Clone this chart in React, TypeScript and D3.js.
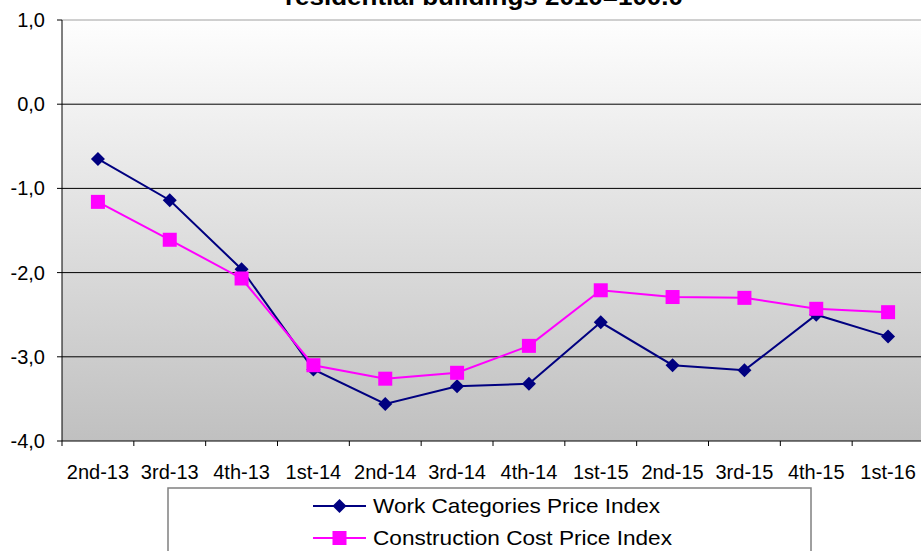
import React from "react";
import * as d3 from "d3";

const categories = ["2nd-13", "3rd-13", "4th-13", "1st-14", "2nd-14", "3rd-14", "4th-14", "1st-15", "2nd-15", "3rd-15", "4th-15", "1st-16"];
const workIndex = [-0.65, -1.14, -1.96, -3.15, -3.56, -3.35, -3.32, -2.59, -3.10, -3.16, -2.50, -2.76];
const costIndex = [-1.16, -1.61, -2.07, -3.10, -3.26, -3.19, -2.87, -2.21, -2.29, -2.30, -2.43, -2.47];
const yTicks = [1, 0, -1, -2, -3, -4];
const titleText = "residential buildings 2010=100.0";
const seriesNames = ["Work Categories Price Index", "Construction Cost Price Index"];

const W = 921, H = 551;
const left = 62, right = 924, top = 20, bottom = 441;
const FONT = "Arial, 'Liberation Sans', sans-serif";

export default function App() {
  const x = d3.scaleBand<string>().domain(categories).range([left, right]).padding(0);
  const y = d3.scaleLinear().domain([-4, 1]).range([bottom, top]);
  const cx = (c: string) => (x(c) as number) + x.bandwidth() / 2;
  const line = d3.line<number>().x((_, i) => cx(categories[i])).y(d => y(d));
  const diamond = (px: number, py: number, r = 7) => `M${px},${py - r}L${px + r},${py}L${px},${py + r}L${px - r},${py}Z`;
  const fmt = (v: number) => v.toFixed(1).replace(".", ",");
  const tickXs = [...categories.map(c => x(c) as number), right];

  return (
    <svg width={W} height={H} style={{ position: "fixed", left: 0, top: 0, background: "#fff" }} fontFamily={FONT}>
      <defs>
        <linearGradient id="bg" x1="0" y1="0" x2="0" y2="1">
          <stop offset="0" stopColor="#fefefe" />
          <stop offset="1" stopColor="#c0c0c0" />
        </linearGradient>
      </defs>
      <text x={285} y={5} fontWeight="bold" fontSize={24} textLength={398} lengthAdjust="spacingAndGlyphs">{titleText}</text>
      <rect x={left} y={top} width={right - left} height={bottom - top} fill="url(#bg)" />
      <line x1={left} x2={right} y1={top} y2={top} stroke="#a0a0a0" strokeWidth={1} />
      {yTicks.filter(t => t > -4 && t < 1).map(t => (
        <line key={t} x1={left} x2={right} y1={y(t)} y2={y(t)} stroke="#000" strokeWidth={1} />
      ))}
      <line x1={left} x2={left} y1={top} y2={bottom} stroke="#000" strokeWidth={1} />
      <line x1={left} x2={right} y1={bottom} y2={bottom} stroke="#000" strokeWidth={1} />
      {yTicks.map(t => (
        <g key={t}>
          <line x1={left - 5} x2={left} y1={y(t)} y2={y(t)} stroke="#000" />
          <text x={45} y={y(t)} textAnchor="end" dominantBaseline="central" fontSize={20}>{fmt(t)}</text>
        </g>
      ))}
      {tickXs.map((tx, i) => (
        <line key={i} x1={tx} x2={tx} y1={bottom} y2={bottom + 5} stroke="#000" />
      ))}
      {categories.map(c => (
        <text key={c} x={cx(c)} y={479} textAnchor="middle" fontSize={20}>{c}</text>
      ))}
      <path d={line(workIndex) as string} fill="none" stroke="#000080" strokeWidth={2} />
      {workIndex.map((v, i) => (
        <path key={i} d={diamond(cx(categories[i]), y(v))} fill="#000080" />
      ))}
      <path d={line(costIndex) as string} fill="none" stroke="#ff00ff" strokeWidth={2} />
      {costIndex.map((v, i) => (
        <rect key={i} x={cx(categories[i]) - 7} y={y(v) - 7} width={14} height={14} fill="#ff00ff" />
      ))}
      <rect x={168} y={488} width={643} height={80} fill="#fff" stroke="#808080" strokeWidth={1.5} />
      <line x1={313} x2={366} y1={506} y2={506} stroke="#000080" strokeWidth={2} />
      <path d={diamond(339.5, 506)} fill="#000080" />
      <text x={373} y={513} fontSize={21} textLength={287} lengthAdjust="spacingAndGlyphs">{seriesNames[0]}</text>
      <line x1={313} x2={366} y1={538} y2={538} stroke="#ff00ff" strokeWidth={2} />
      <rect x={332.5} y={531} width={14} height={14} fill="#ff00ff" />
      <text x={373} y={545} fontSize={21} textLength={299} lengthAdjust="spacingAndGlyphs">{seriesNames[1]}</text>
    </svg>
  );
}
